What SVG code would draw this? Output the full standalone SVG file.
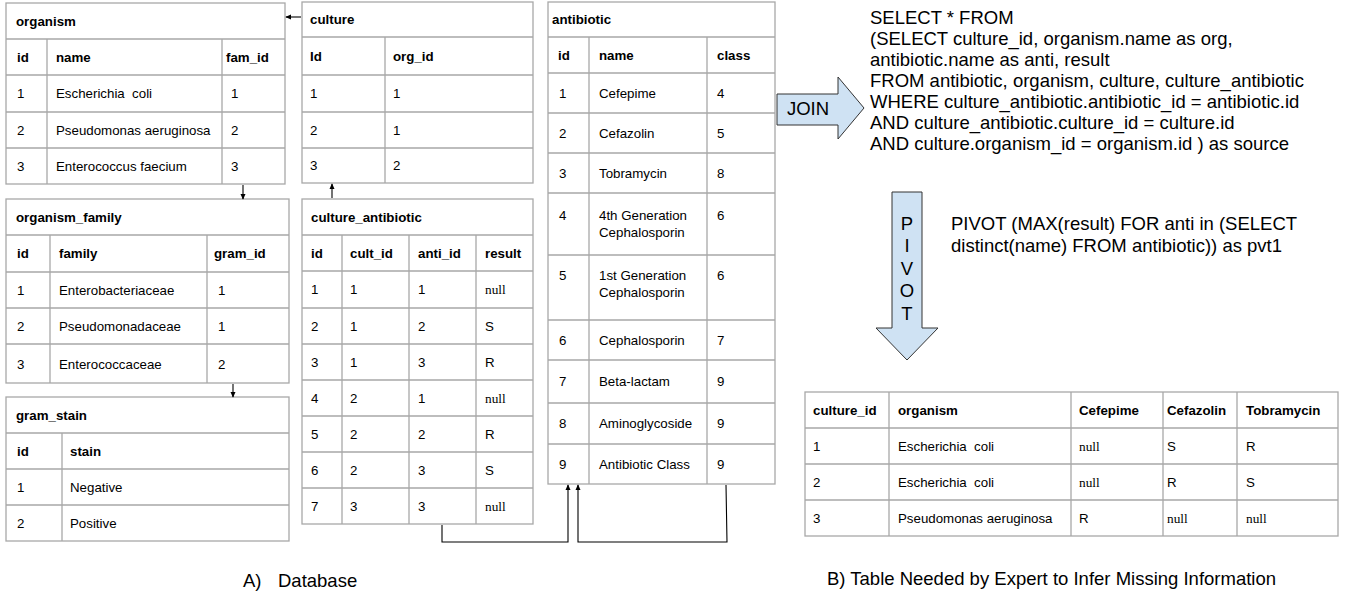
<svg xmlns="http://www.w3.org/2000/svg" width="1348" height="595" viewBox="0 0 1348 595">
<defs>
<style>
.bg{fill:#ffffff}
.tb{fill:#ffffff;stroke:#a8a8a8;stroke-width:1.3}
.ln{stroke:#a8a8a8;stroke-width:1.3;fill:none}
.t{font-family:"Liberation Sans",Arial,sans-serif;font-size:13.3px;fill:#000}
.h{font-family:"Liberation Sans",Arial,sans-serif;font-size:13.3px;font-weight:bold;fill:#000}
.n{font-family:"Liberation Serif","Times New Roman",serif;font-size:13.3px;fill:#000}
.big{font-family:"Liberation Sans",Arial,sans-serif;font-size:18.5px;fill:#000}
.conn{stroke:#000;stroke-width:1.1;fill:none}
.blk{fill:#cfe2f3;stroke:#333;stroke-width:1}
</style>
<marker id="ah" viewBox="0 0 8 8" refX="7" refY="4" markerWidth="6" markerHeight="6" markerUnits="userSpaceOnUse" orient="auto">
<path d="M0,0.5 L8,4 L0,7.5 z" fill="#000"/>
</marker>
</defs>
<rect class="bg" x="0" y="0" width="1348" height="595"/>

<g id="organism">
<rect class="tb" x="6" y="3" width="279" height="181"/>
<path class="ln" d="M6,39H285M6,75H285M6,112H285M6,148H285M47,39V184M222,39V184"/>
<text class="h" x="16" y="26">organism</text>
<text class="h" x="17" y="62">id</text><text class="h" x="56" y="62">name</text><text class="h" x="226" y="62">fam_id</text>
<text class="t" x="17" y="98">1</text><text class="t" x="56" y="98">Escherichia&#160; coli</text><text class="t" x="231" y="98">1</text>
<text class="t" x="17" y="135">2</text><text class="t" x="56" y="135">Pseudomonas aeruginosa</text><text class="t" x="231" y="135">2</text>
<text class="t" x="17" y="171">3</text><text class="t" x="56" y="171">Enterococcus faecium</text><text class="t" x="231" y="171">3</text>
</g>

<g id="culture">
<rect class="tb" x="302" y="2" width="231" height="181"/>
<path class="ln" d="M302,37H533M302,75H533M302,112H533M302,148H533M385,37V183"/>
<text class="h" x="310" y="24">culture</text>
<text class="h" x="310" y="61">Id</text><text class="h" x="393" y="61">org_id</text>
<text class="t" x="310" y="98">1</text><text class="t" x="393" y="98">1</text>
<text class="t" x="310" y="135">2</text><text class="t" x="393" y="135">1</text>
<text class="t" x="310" y="170">3</text><text class="t" x="393" y="170">2</text>
</g>

<g id="antibiotic">
<rect class="tb" x="548" y="2" width="227" height="482"/>
<path class="ln" d="M548,37H775M548,73H775M548,113H775M548,153H775M548,193H775M548,255H775M548,320H775M548,360H775M548,403H775M548,444H775M589,37V484M707,37V484"/>
<text class="h" x="552" y="24">antibiotic</text>
<text class="h" x="558" y="60">id</text><text class="h" x="599" y="60">name</text><text class="h" x="717" y="60">class</text>
<text class="t" x="559" y="98">1</text><text class="t" x="599" y="98">Cefepime</text><text class="t" x="717" y="98">4</text>
<text class="t" x="559" y="138">2</text><text class="t" x="599" y="138">Cefazolin</text><text class="t" x="717" y="138">5</text>
<text class="t" x="559" y="178">3</text><text class="t" x="599" y="178">Tobramycin</text><text class="t" x="717" y="178">8</text>
<text class="t" x="559" y="220">4</text><text class="t" x="599" y="220">4th Generation</text><text class="t" x="599" y="237">Cephalosporin</text><text class="t" x="717" y="220">6</text>
<text class="t" x="559" y="280">5</text><text class="t" x="599" y="280">1st Generation</text><text class="t" x="599" y="297">Cephalosporin</text><text class="t" x="717" y="280">6</text>
<text class="t" x="559" y="345">6</text><text class="t" x="599" y="345">Cephalosporin</text><text class="t" x="717" y="345">7</text>
<text class="t" x="559" y="386">7</text><text class="t" x="599" y="386">Beta-lactam</text><text class="t" x="717" y="386">9</text>
<text class="t" x="559" y="428">8</text><text class="t" x="599" y="428">Aminoglycoside</text><text class="t" x="717" y="428">9</text>
<text class="t" x="559" y="469">9</text><text class="t" x="599" y="469">Antibiotic Class</text><text class="t" x="717" y="469">9</text>
</g>

<g id="organism_family">
<rect class="tb" x="6" y="199" width="283" height="184"/>
<path class="ln" d="M6,235H289M6,272H289M6,308H289M6,344H289M50,235V383M207,235V383"/>
<text class="h" x="16" y="222">organism_family</text>
<text class="h" x="17" y="258">id</text><text class="h" x="59" y="258">family</text><text class="h" x="214" y="258">gram_id</text>
<text class="t" x="17" y="295">1</text><text class="t" x="59" y="295">Enterobacteriaceae</text><text class="t" x="218" y="295">1</text>
<text class="t" x="17" y="331">2</text><text class="t" x="59" y="331">Pseudomonadaceae</text><text class="t" x="218" y="331">1</text>
<text class="t" x="17" y="369">3</text><text class="t" x="59" y="369">Enterococcaceae</text><text class="t" x="218" y="369">2</text>
</g>

<g id="gram_stain">
<rect class="tb" x="6" y="397" width="283" height="144"/>
<path class="ln" d="M6,433H289M6,469H289M6,505H289M62,433V541"/>
<text class="h" x="16" y="420">gram_stain</text>
<text class="h" x="17" y="456">id</text><text class="h" x="70" y="456">stain</text>
<text class="t" x="17" y="492">1</text><text class="t" x="70" y="492">Negative</text>
<text class="t" x="17" y="528">2</text><text class="t" x="70" y="528">Positive</text>
</g>

<g id="culture_antibiotic">
<rect class="tb" x="302" y="199" width="231" height="325"/>
<path class="ln" d="M302,235H533M302,271H533M302,308H533M302,344H533M302,380H533M302,416H533M302,452H533M302,488H533M342,235V524M409,235V524M476,235V524"/>
<text class="h" x="311" y="222">culture_antibiotic</text>
<text class="h" x="311" y="258">id</text><text class="h" x="350" y="258">cult_id</text><text class="h" x="418" y="258">anti_id</text><text class="h" x="485" y="258">result</text>
<text class="t" x="311" y="294">1</text><text class="t" x="350" y="294">1</text><text class="t" x="418" y="294">1</text><text class="n" x="485" y="294">null</text>
<text class="t" x="311" y="331">2</text><text class="t" x="350" y="331">1</text><text class="t" x="418" y="331">2</text><text class="t" x="485" y="331">S</text>
<text class="t" x="311" y="367">3</text><text class="t" x="350" y="367">1</text><text class="t" x="418" y="367">3</text><text class="t" x="485" y="367">R</text>
<text class="t" x="311" y="403">4</text><text class="t" x="350" y="403">2</text><text class="t" x="418" y="403">1</text><text class="n" x="485" y="403">null</text>
<text class="t" x="311" y="439">5</text><text class="t" x="350" y="439">2</text><text class="t" x="418" y="439">2</text><text class="t" x="485" y="439">R</text>
<text class="t" x="311" y="475">6</text><text class="t" x="350" y="475">2</text><text class="t" x="418" y="475">3</text><text class="t" x="485" y="475">S</text>
<text class="t" x="311" y="511">7</text><text class="t" x="350" y="511">3</text><text class="t" x="418" y="511">3</text><text class="n" x="485" y="511">null</text>
</g>

<g id="result_table">
<rect class="tb" x="805" y="392" width="533" height="144"/>
<path class="ln" d="M805,428H1338M805,464H1338M805,500H1338M889,392V536M1071,392V536M1163,392V536M1237,392V536"/>
<text class="h" x="813" y="415">culture_id</text><text class="h" x="898" y="415">organism</text><text class="h" x="1079" y="415">Cefepime</text><text class="h" x="1167" y="415">Cefazolin</text><text class="h" x="1246" y="415">Tobramycin</text>
<text class="t" x="813" y="451">1</text><text class="t" x="898" y="451">Escherichia&#160; coli</text><text class="n" x="1079" y="451">null</text><text class="t" x="1167" y="451">S</text><text class="t" x="1246" y="451">R</text>
<text class="t" x="813" y="487">2</text><text class="t" x="898" y="487">Escherichia&#160; coli</text><text class="n" x="1079" y="487">null</text><text class="t" x="1167" y="487">R</text><text class="t" x="1246" y="487">S</text>
<text class="t" x="813" y="523">3</text><text class="t" x="898" y="523">Pseudomonas aeruginosa</text><text class="t" x="1079" y="523">R</text><text class="n" x="1167" y="523">null</text><text class="n" x="1246" y="523">null</text>
</g>

<g id="join_arrow">
<path class="blk" d="M777,94 L838,94 L838,77 L864,108 L838,139 L838,125 L777,125 Z"/>
<text class="big" x="808" y="114.5" text-anchor="middle">JOIN</text>
</g>

<g id="sql_join">
<text class="big" x="870" y="23.6">SELECT * FROM</text>
<text class="big" x="870" y="44.6">(SELECT culture_id, organism.name as org,</text>
<text class="big" x="870" y="65.6">antibiotic.name as anti, result</text>
<text class="big" x="870" y="86.6">FROM antibiotic, organism, culture, culture_antibiotic</text>
<text class="big" x="870" y="107.6">WHERE culture_antibiotic.antibiotic_id = antibiotic.id</text>
<text class="big" x="870" y="128.6">AND culture_antibiotic.culture_id = culture.id</text>
<text class="big" x="870" y="149.6">AND culture.organism_id = organism.id ) as source</text>
</g>

<g id="pivot_arrow">
<path class="blk" d="M892,192 L922,192 L922,328 L938,328 L907,360 L876,328 L892,328 Z"/>
<text class="big" x="907" y="229.5" text-anchor="middle">P</text>
<text class="big" x="907" y="252" text-anchor="middle">I</text>
<text class="big" x="907" y="274.5" text-anchor="middle">V</text>
<text class="big" x="907" y="297" text-anchor="middle">O</text>
<text class="big" x="907" y="319.5" text-anchor="middle">T</text>
</g>

<g id="sql_pivot">
<text class="big" x="951" y="229.6">PIVOT (MAX(result) FOR anti in (SELECT</text>
<text class="big" x="951" y="251.6">distinct(name) FROM antibiotic)) as pvt1</text>
</g>

<g id="captions">
<text class="big" x="243" y="586.6">A)</text>
<text class="big" x="278" y="586.6">Database</text>
<text class="big" x="827" y="584.6">B) Table Needed by Expert to Infer Missing Information</text>
</g>

<g id="connectors">
<path class="conn" d="M301,17 L286,17" marker-end="url(#ah)"/>
<path class="conn" d="M243,185 L243,199" marker-end="url(#ah)"/>
<path class="conn" d="M233,384 L233,397" marker-end="url(#ah)"/>
<path class="conn" d="M332,198 L332,184" marker-end="url(#ah)"/>
<path class="conn" d="M442,525 L442,542 L568,542 L568,485" marker-end="url(#ah)"/>
<path class="conn" d="M726,485 L727,542 L578,542 L578,485" marker-end="url(#ah)"/>
</g>
</svg>
